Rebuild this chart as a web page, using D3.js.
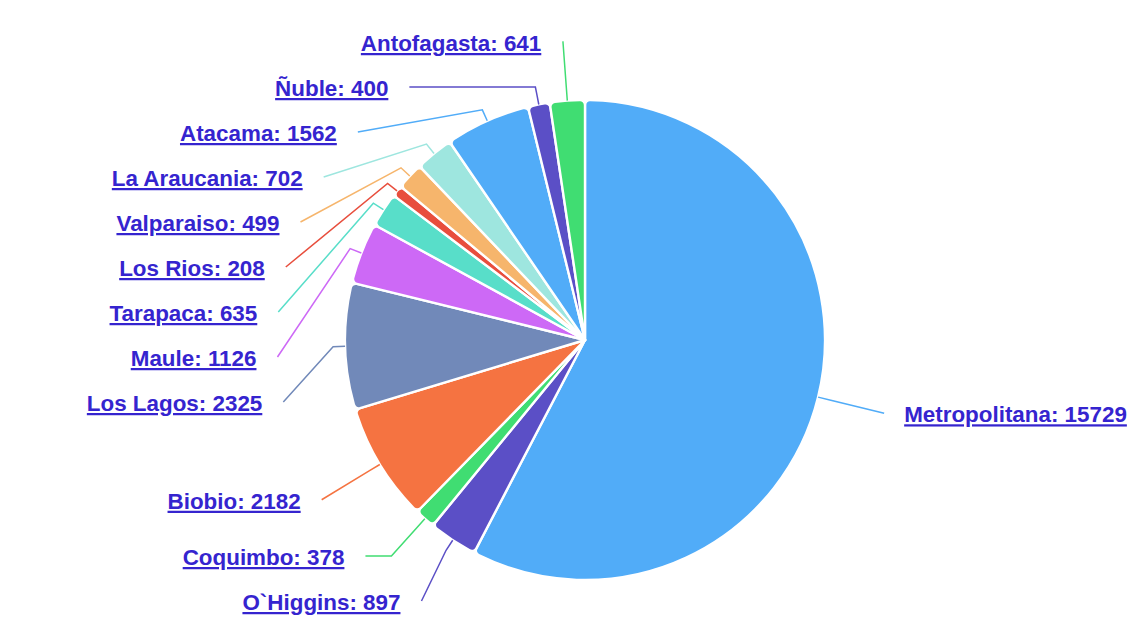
<!DOCTYPE html>
<html>
<head>
<meta charset="utf-8">
<script src="https://cdn.jsdelivr.net/npm/d3@7"></script>
<style>
  body { margin: 0; background: #fff; }
  .label-text {
    font-family: "Liberation Sans", Arial, sans-serif;
    font-size: 22.4px;
    font-weight: bold;
    fill: #3524cf;
    text-decoration: underline;
  }
</style>
</head>
<body>
<div id="chart"></div>
<script>
// data (clockwise from 12 o'clock)
var regions = ["Metropolitana", "O`Higgins", "Coquimbo", "Biobio", "Los Lagos", "Maule",
               "Tarapaca", "Los Rios", "Valparaiso", "La Araucania", "Atacama", "Ñuble", "Antofagasta"];
var counts = [15729, 897, 378, 2182, 2325, 1126, 635, 208, 499, 702, 1562, 400, 641];
var palette = ["#51acf8", "#5b4fc6", "#40dd72", "#f57341", "#7189b9",
               "#cd69f6", "#58dec9", "#e84e3d", "#f6b56c", "#9ee6df"];

var width = 1142, height = 620;
var cx = 585, cy = 340, radius = 240;
var labelRadius = 308,   // where the connectors end
    breakDist = 12,      // connector break outside the slice
    labelGap = 45,       // vertical room per label
    labelTop = 42, labelBottom = 601;

var data = regions.map(function(r, i) { return {name: r, value: counts[i]}; });

var svg = d3.select("#chart")
  .append("svg")
    .attr("width", width)
    .attr("height", height)
  .append("g");

var pie = d3.pie()
  .sort(null)
  .value(function(d) { return d.value; });

var arc = d3.arc()
  .innerRadius(0)
  .outerRadius(radius)
  .cornerRadius(5);

var arcs = pie(data);

// slices
svg.append("g")
    .attr("transform", "translate(" + cx + "," + cy + ")")
  .selectAll("path")
  .data(arcs)
  .enter()
  .append("path")
    .attr("d", arc)
    .attr("fill", function(d) { return palette[d.index % palette.length]; })
    .attr("stroke", "#fff")
    .attr("stroke-width", 2.4)
    .attr("stroke-linejoin", "round");

// label positions
function polar(a, r) {
  return {x: cx + r * Math.sin(a), y: cy - r * Math.cos(a)};
}

arcs.forEach(function(d) {
  d.mid = (d.startAngle + d.endAngle) / 2;
  d.left = d.mid > Math.PI;
  d.naturalY = cy - labelRadius * Math.cos(d.mid);
  d.ly = d.naturalY;
});

function distribute(list) {
  list.sort(function(a, b) { return a.naturalY - b.naturalY; });
  list.forEach(function(d, i) {
    var y = Math.max(d.naturalY, labelTop);
    if (i > 0) y = Math.max(y, list[i - 1].ly + labelGap);
    d.ly = y;
  });
  for (var i = list.length - 1; i >= 0; i--) {
    var y = Math.min(list[i].ly, labelBottom);
    if (i < list.length - 1) y = Math.min(y, list[i + 1].ly - labelGap);
    list[i].ly = y;
  }
}
distribute(arcs.filter(function(d) { return d.left; }));
distribute(arcs.filter(function(d) { return !d.left; }));

arcs.forEach(function(d) {
  // labels stuck on the top/bottom edge keep their natural x
  var atEdge = (d.ly === labelTop && d.naturalY < labelTop) ||
               (d.ly === labelBottom && d.naturalY > labelBottom);
  var yForX = atEdge ? d.naturalY : d.ly;
  var dy = Math.max(-labelRadius, Math.min(labelRadius, yForX - cy));
  var dx = Math.sqrt(labelRadius * labelRadius - dy * dy);
  d.lx = d.left ? cx - dx : cx + dx;
});

// connectors
function connector(d) {
  var touch = polar(d.mid, radius);
  var brk = polar(d.mid, radius + breakDist);
  var crookX = cx + (cy - d.ly) * Math.tan(d.mid);
  var path = d3.path();
  path.moveTo(d.lx, d.ly);
  if (d.left ? (crookX >= d.lx && crookX <= brk.x) : (crookX <= d.lx && crookX >= brk.x)) {
    path.lineTo(crookX, d.ly);
  }
  path.lineTo(brk.x, brk.y);
  path.lineTo(touch.x, touch.y);
  return path.toString();
}

svg.append("g")
  .selectAll("path")
  .data(arcs)
  .enter()
  .append("path")
    .attr("d", connector)
    .attr("fill", "none")
    .attr("stroke", function(d) { return palette[d.index % palette.length]; })
    .attr("stroke-width", 1.5);

// labels
svg.append("g")
  .selectAll("text")
  .data(arcs)
  .enter()
  .append("text")
    .attr("class", "label-text")
    .attr("x", function(d) { return d.left ? d.lx - 21 : d.lx + 20; })
    .attr("y", function(d) { return d.ly + 9; })
    .attr("text-anchor", function(d) { return d.left ? "end" : "start"; })
    .text(function(d) { return d.data.name + ": " + d.data.value; });
</script>
</body>
</html>
